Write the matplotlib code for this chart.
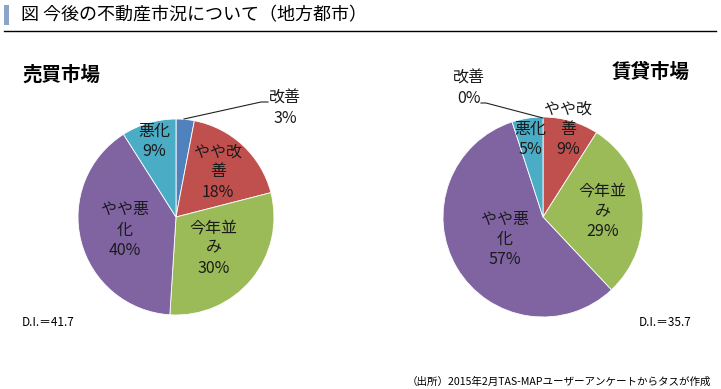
import matplotlib.pyplot as plt
import numpy as np

plt.rcParams['font.family'] = ['Noto Sans CJK JP', 'DejaVu Sans']

W, H = 721, 389

categories = ['改善', 'やや改善', '今年並み', 'やや悪化', '悪化']
label_lines = ['改善', 'やや改\n善', '今年並\nみ', 'やや悪\n化', '悪化']
colors = ['#4F81BD', '#C0504D', '#9BBB59', '#8064A2', '#4BACC6']

sales = [3, 18, 30, 40, 9]
rent = [0, 9, 29, 57, 5]
sales_di = '41.7'
rent_di = '35.7'

title = '図 今後の不動産市況について（地方都市）'
source = '（出所）2015年2月TAS-MAPユーザーアンケートからタスが作成'

fig = plt.figure(figsize=(W / 100, H / 100), dpi=100)
ax = fig.add_axes([0, 0, 1, 1])

LBL = dict(ha='center', va='center', fontsize=11.5, linespacing=1.25, color='#1a1a1a')


def Y(y):
    return H - y


def draw_pie(values, cx, cy, r, fracs):
    wedges, _ = ax.pie(values, colors=colors, startangle=90, counterclock=False,
                       center=(cx, Y(cy)), radius=r,
                       wedgeprops=dict(edgecolor='white', linewidth=0.6))
    for i, w in enumerate(wedges):
        if fracs[i] is None:
            continue
        ang = np.deg2rad((w.theta1 + w.theta2) / 2)
        x = cx + r * fracs[i] * np.cos(ang)
        y = Y(cy) + r * fracs[i] * np.sin(ang)
        ax.text(x, y, f'{label_lines[i]}\n{values[i]}%', **LBL)
    return wedges


# left pie
draw_pie(sales, 176, 217, 98, [None, 0.63, 0.5, 0.54, 0.8])
ax.text(285, Y(108), f'{categories[0]}\n{sales[0]}%', **LBL)
ax.plot([184, 261, 268], [Y(119), Y(102), Y(102)], color='#222222', lw=0.8)

# right pie
draw_pie(rent, 543, 217, 100, [None, 0.91, 0.6, 0.44, 0.79])
ax.text(469, Y(88), f'{categories[0]}\n{rent[0]}%', **LBL)
ax.plot([481, 486, 543], [Y(103), Y(103), Y(118)], color='#222222', lw=0.8)

# titles and notes
ax.add_patch(plt.Rectangle((4, Y(25)), 5, 20, color='#8EA3C9', lw=0))
ax.plot([4, 716], [Y(31), Y(31)], color='black', lw=1)
ax.text(21, Y(15), title, ha='left', va='center', fontsize=13)
ax.text(22, Y(75), '売買市場', ha='left', va='center', fontsize=14, fontweight='bold')
ax.text(690, Y(72), '賃貸市場', ha='right', va='center', fontsize=14, fontweight='bold')
ax.text(22, Y(322), f'D.I.＝{sales_di}', ha='left', va='center', fontsize=8.5)
ax.text(691, Y(322), f'D.I.＝{rent_di}', ha='right', va='center', fontsize=8.5)
ax.text(711, Y(382), source, ha='right', va='center', fontsize=7.6)

ax.set_xlim(0, W)
ax.set_ylim(0, H)
ax.set_aspect('equal')
ax.axis('off')

fig.savefig('out.png', dpi=100)
